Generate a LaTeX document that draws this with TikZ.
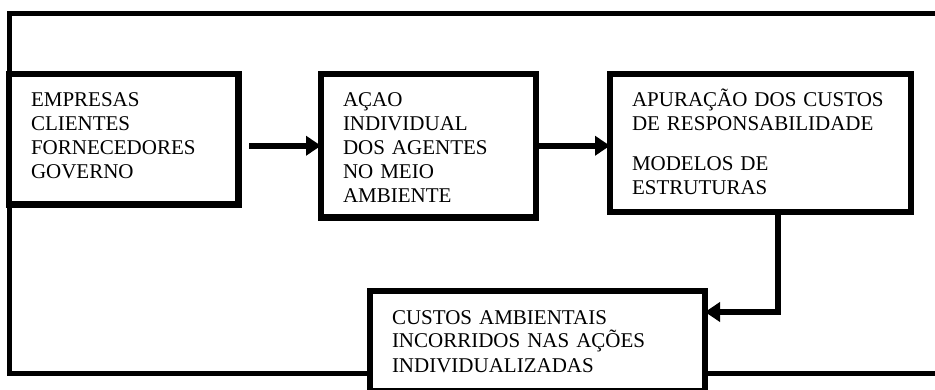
\documentclass[tikz,border=0pt]{standalone}
\usepackage{fontspec}
\setmainfont{Liberation Serif}
\usetikzlibrary{arrows.meta}
\tikzset{
    flow-box/.style = {draw, fill=white, line width=6.5pt, rectangle, anchor=north west, outer sep=0pt, inner xsep=22pt, inner ysep=0pt, align=left, text height=33pt, font=\fontsize{21pt}{24pt}\selectfont},
    flow-arrow/.style = {line width=6pt, -{Triangle[length=15pt, width=19pt]}},
    loop-line/.style = {line width=5pt},
}

\begin{document}
\begin{tikzpicture}[x=1pt, y=-1pt]
\useasboundingbox (0,0) rectangle (935,390);
\node [flow-box, text width=185.5pt, text depth=97.5pt] (agents) at (9,74) {EMPRESAS\\CLIENTES\\FORNECEDORES\\GOVERNO};
\node [flow-box, text width=171pt, text depth=110.5pt] (action) at (321,74) {AÇAO\\INDIVIDUAL\\DOS AGENTES\\NO MEIO\\AMBIENTE};
\node [flow-box, text width=257pt, text depth=105pt] (costs) at (610,74) {APURAÇÃO DOS CUSTOS\\DE RESPONSABILIDADE\\[16pt]MODELOS DE\\ESTRUTURAS};
\node [flow-box, text width=291pt, text depth=67pt] (envcosts) at (370,291) {CUSTOS AMBIENTAIS\\INCORRIDOS NAS AÇÕES\\INDIVIDUALIZADAS};
\draw [loop-line] (envcosts.west |- 0,373.5) -| (agents.north west) |- (945,14);
\draw [loop-line] (envcosts.east |- 0,373.5) -- (945,373.5);
\draw [flow-arrow, shorten <=10.5pt] (agents.east |- action.west) -- (action.west);
\draw [flow-arrow] (action.east) -- (costs.west |- action.east);
\draw [flow-arrow] ([xshift=17.5pt]costs.south) |- ([yshift=29pt]envcosts.east);
\end{tikzpicture}
\end{document}
